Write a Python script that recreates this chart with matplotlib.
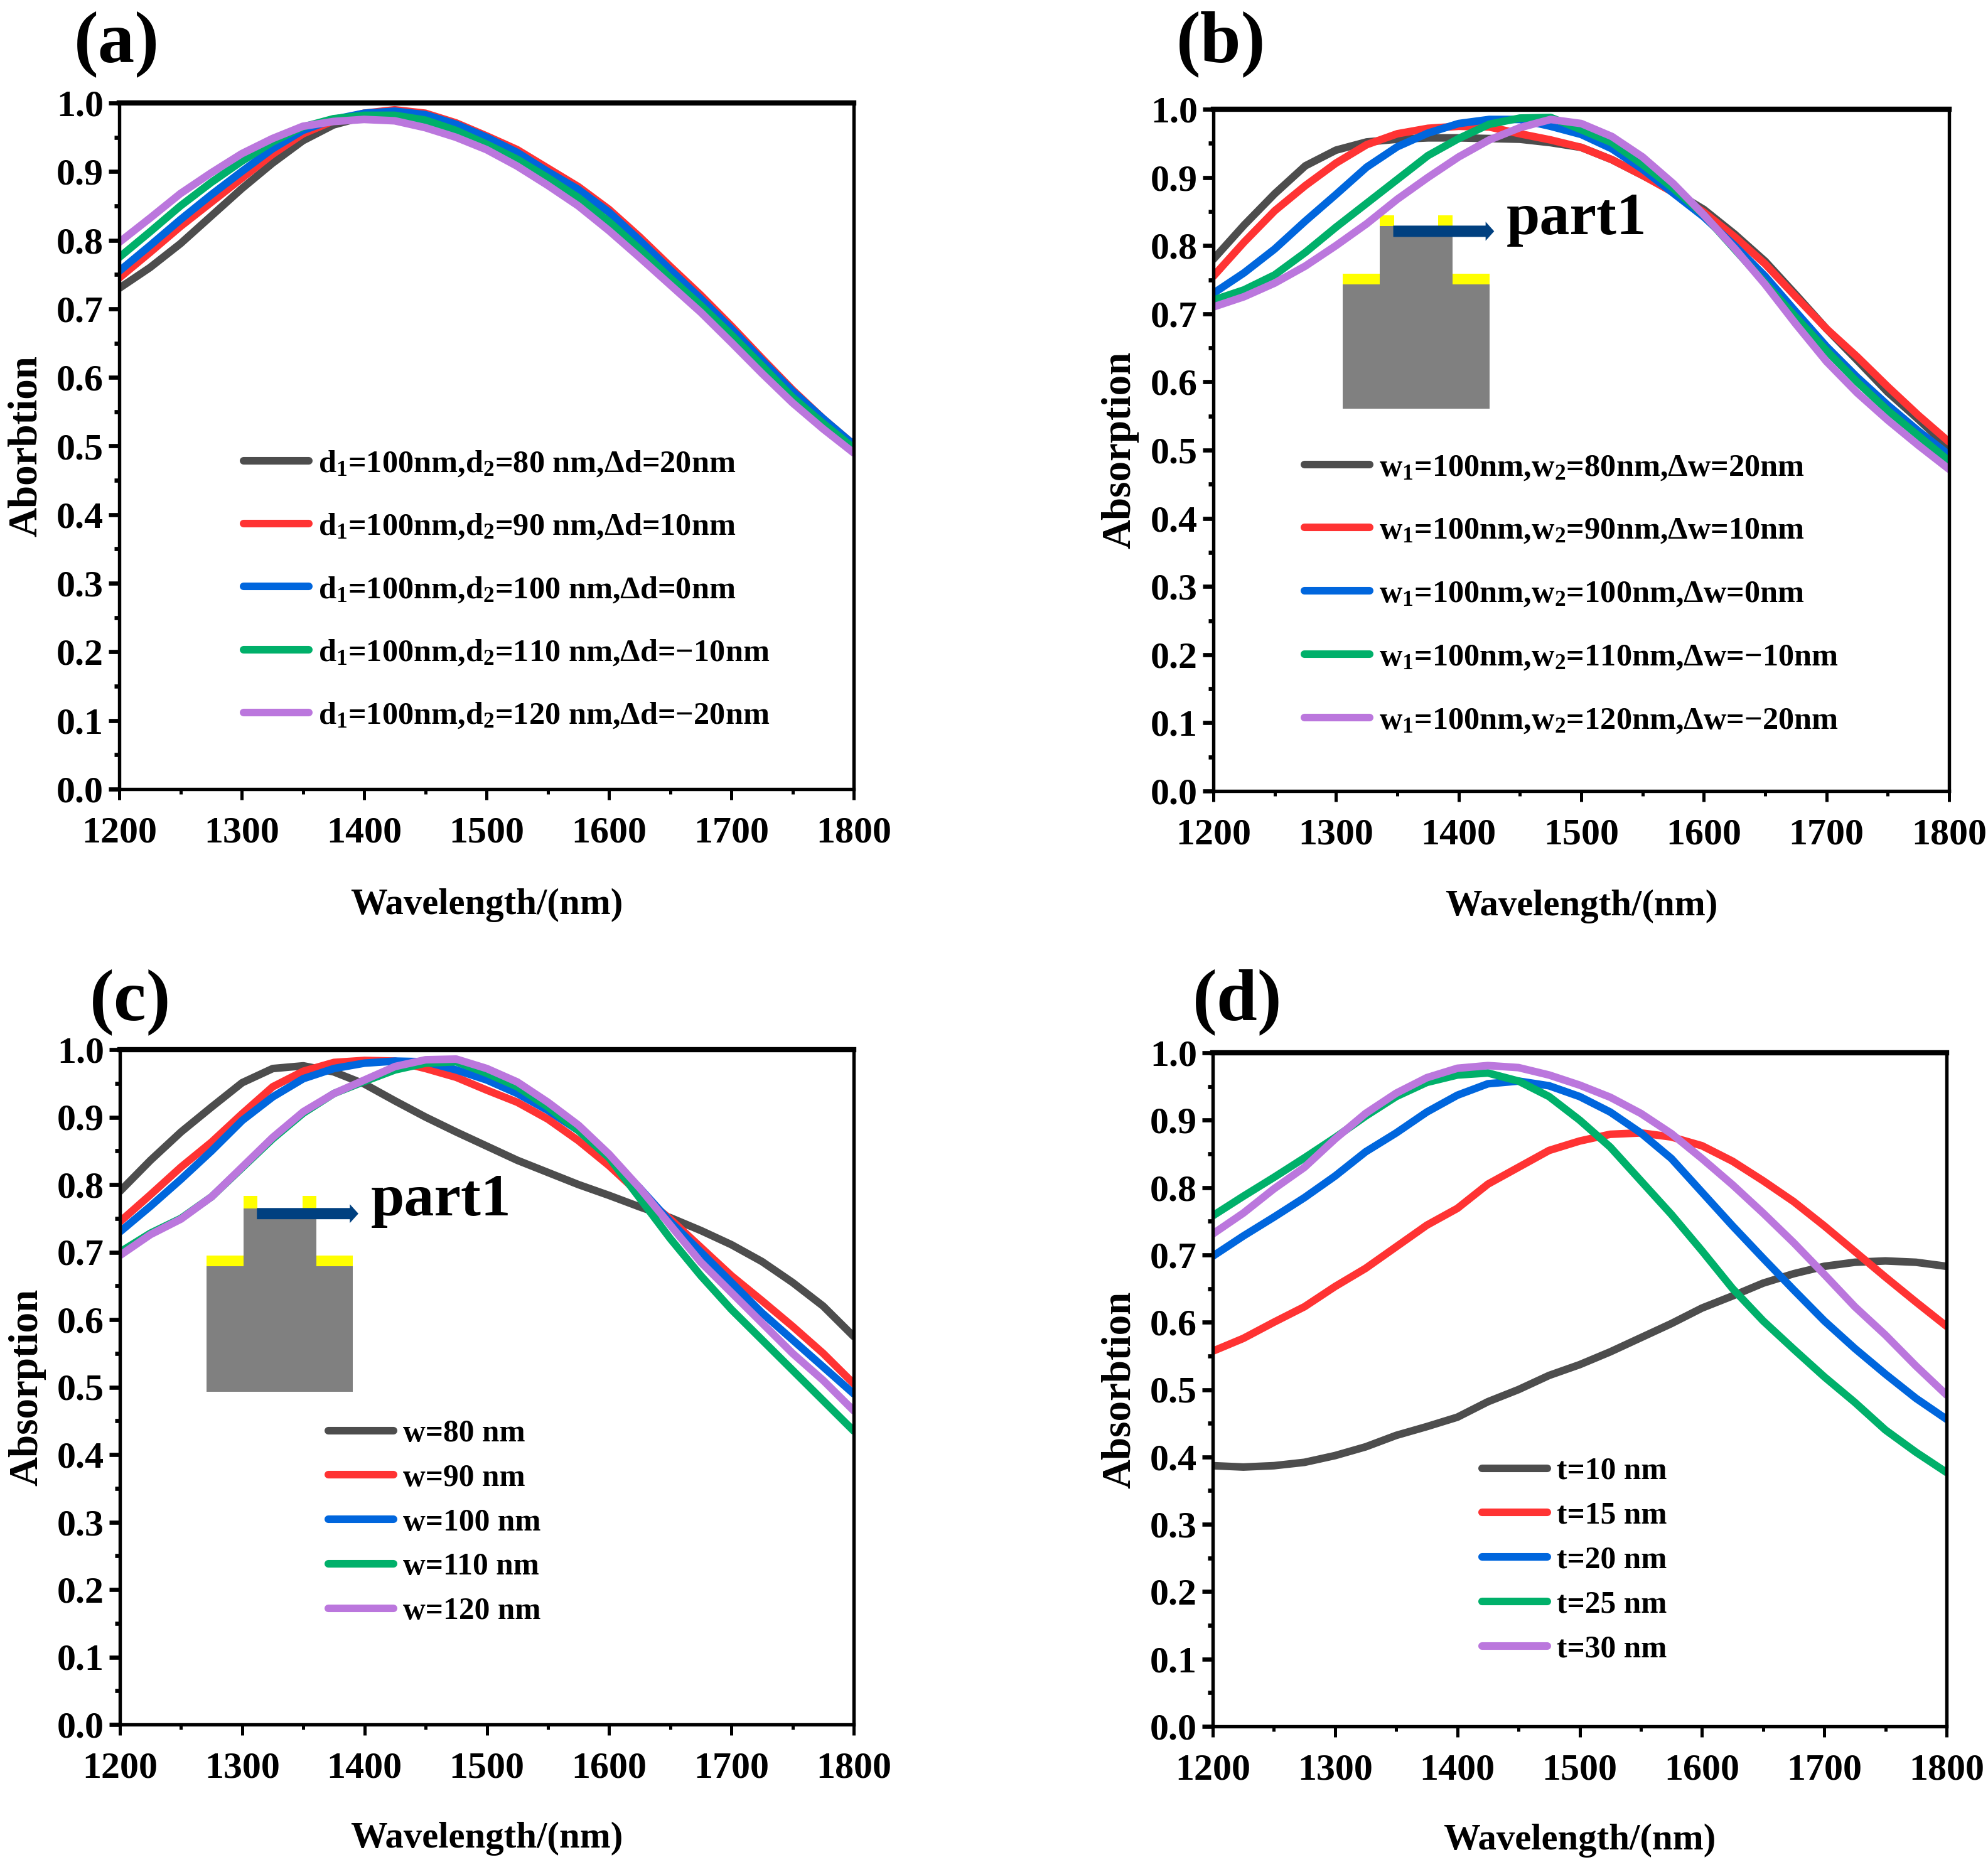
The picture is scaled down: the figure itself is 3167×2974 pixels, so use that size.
import numpy as np
import matplotlib
matplotlib.use('Agg')
import matplotlib.pyplot as plt
from matplotlib.patches import Rectangle
from matplotlib.ticker import MultipleLocator

plt.rcParams['font.family'] = ['Liberation Serif', 'DejaVu Serif']
plt.rcParams['font.weight'] = 'bold'
plt.rcParams['axes.labelweight'] = 'bold'
plt.rcParams['mathtext.default'] = 'regular'

W = 3167
H = 2974

Wavelength = [1200, 1225, 1250, 1275, 1300, 1325, 1350, 1375, 1400, 1425, 1450, 1475, 1500,
              1525, 1550, 1575, 1600, 1625, 1650, 1675, 1700, 1725, 1750, 1775, 1800]
Colores = ['#4d4d4d', '#ff3333', '#0066dd', '#00b06a', '#bb77dd']

#a
A1 = [.730, .760, .795, .835, .875, .912, .945, .968, .980, .985, .980, .968, .950, .928, .904, .874, .841, .800, .757, .716, .671, .625, .579, .538, .500]
A2 = [.745, .782, .820, .855, .890, .925, .955, .974, .985, .990, .985, .971, .952, .932, .905, .878, .845, .805, .762, .720, .675, .628, .582, .540, .502]
A3 = [.755, .792, .830, .866, .900, .933, .960, .976, .985, .988, .983, .969, .950, .928, .900, .874, .841, .800, .757, .715, .671, .625, .580, .540, .502]
A4 = [.775, .812, .850, .884, .915, .943, .965, .977, .982, .982, .975, .960, .940, .918, .891, .862, .827, .787, .745, .705, .662, .617, .571, .533, .497]
A5 = [.797, .832, .868, .898, .926, .948, .966, .973, .976, .974, .964, .950, .932, .908, .880, .850, .814, .775, .735, .695, .651, .606, .563, .525, .490]
Labels_a = ['d$_1$=100nm,d$_2$=80 nm,Δd=20nm', 'd$_1$=100nm,d$_2$=90 nm,Δd=10nm', 'd$_1$=100nm,d$_2$=100 nm,Δd=0nm',
            'd$_1$=100nm,d$_2$=110 nm,Δd=\u221210nm', 'd$_1$=100nm,d$_2$=120 nm,Δd=\u221220nm']

#b
B1 = [.780, .830, .876, .917, .940, .952, .956, .958, .958, .957, .956, .951, .944, .926, .903, .880, .853, .817, .777, .728, .678, .632, .585, .545, .503]
B2 = [.755, .805, .851, .888, .921, .948, .964, .972, .975, .974, .964, .955, .944, .926, .903, .878, .849, .813, .773, .725, .678, .637, .593, .551, .512]
B3 = [.730, .760, .795, .836, .875, .915, .945, .965, .979, .985, .985, .975, .963, .942, .912, .877, .842, .800, .755, .703, .652, .607, .566, .528, .493]
B4 = [.720, .735, .757, .790, .827, .862, .897, .932, .957, .978, .987, .988, .970, .951, .919, .884, .845, .795, .745, .695, .646, .600, .558, .521, .484]
B5 = [.710, .725, .745, .770, .800, .832, .868, .900, .930, .955, .973, .985, .979, .960, .930, .891, .845, .796, .743, .685, .630, .584, .544, .507, .472]
Labels_b = ['w$_1$=100nm,w$_2$=80nm,Δw=20nm', 'w$_1$=100nm,w$_2$=90nm,Δw=10nm', 'w$_1$=100nm,w$_2$=100nm,Δw=0nm',
            'w$_1$=100nm,w$_2$=110nm,Δw=\u221210nm', 'w$_1$=100nm,w$_2$=120nm,Δw=\u221220nm']

#c
C1 = [.790, .836, .878, .915, .951, .972, .976, .967, .949, .924, .900, .878, .857, .836, .818, .800, .784, .767, .751, .732, .711, .686, .655, .620, .575]
C2 = [.745, .785, .826, .863, .905, .945, .968, .981, .984, .983, .972, .959, .940, .922, .897, .865, .828, .786, .749, .707, .665, .628, .590, .550, .505]
C3 = [.730, .768, .808, .850, .895, .930, .957, .972, .980, .983, .982, .970, .955, .935, .910, .880, .840, .795, .745, .700, .655, .610, .570, .530, .490]
C4 = [.700, .728, .750, .782, .825, .868, .906, .935, .953, .970, .980, .982, .965, .945, .915, .880, .840, .780, .720, .665, .615, .570, .525, .480, .435]
C5 = [.695, .726, .749, .782, .826, .870, .908, .935, .955, .975, .985, .986, .972, .952, .922, .888, .845, .795, .740, .685, .640, .595, .550, .510, .465]
Labels_c = ['w=80 nm', 'w=90 nm', 'w=100 nm', 'w=110 nm', 'w=120 nm']

#d
D1 = [.387, .385, .387, .392, .402, .415, .432, .445, .459, .482, .500, .521, .537, .556, .577, .598, .621, .639, .658, .672, .683, .689, .691, .689, .683]
D2 = [.557, .576, .600, .623, .653, .680, .712, .744, .769, .805, .830, .855, .869, .879, .881, .875, .862, .839, .810, .779, .743, .705, .667, .630, .594]
D3 = [.698, .728, .756, .785, .817, .853, .881, .912, .937, .954, .958, .951, .935, .912, .881, .843, .793, .743, .695, .648, .602, .561, .523, .487, .456]
D4 = [.758, .787, .815, .844, .874, .906, .935, .956, .967, .970, .958, .935, .900, .860, .810, .760, .706, .650, .602, .560, .519, .481, .440, .407, .377]
D5 = [.731, .762, .798, .830, .872, .910, .940, .963, .977, .981, .978, .967, .952, .934, .910, .880, .843, .804, .762, .718, .671, .623, .581, .535, .492]
Labels_d = ['t=10 nm', 't=15 nm', 't=20 nm', 't=25 nm', 't=30 nm']


def Panel(caja, curvas, labels, ylabel, letra, letra_xy, ley_xy, fs, espacio):
    x0, y0, x1, y1 = caja
    ax = fig.add_axes([x0/W, 1-y1/H, (x1-x0)/W, (y1-y0)/H])
    for i in range(5):
        ax.plot(Wavelength, curvas[i], color=Colores[i], lw=2.9, label=labels[i],
                solid_capstyle='round', solid_joinstyle='round')
    ax.set_xlim(1200, 1800)
    ax.set_ylim(0, 1)
    ax.xaxis.set_major_locator(MultipleLocator(100))
    ax.xaxis.set_minor_locator(MultipleLocator(50))
    ax.yaxis.set_major_locator(MultipleLocator(0.1))
    ax.yaxis.set_minor_locator(MultipleLocator(0.05))
    ax.tick_params(which='major', length=4, labelsize=14.4)
    ax.tick_params(which='minor', length=2)
    ax.tick_params(axis='x', which='both', width=1.2)
    ax.tick_params(axis='y', which='both', width=1.6)
    ax.tick_params(axis='x', which='major', pad=6.5)
    ax.tick_params(axis='y', which='major', pad=2)
    for s in ax.spines.values():
        s.set_linewidth(1.3)
    ax.spines['top'].set_linewidth(2.0)
    ax.set_xlabel('Wavelength/(nm)', fontsize=14.1)
    ax.set_ylabel(ylabel, fontsize=15.6)
    ax.xaxis.set_label_coords(0.5, -0.144)
    ax.yaxis.set_label_coords(-0.101, 0.5)
    ax.legend(loc='upper left', bbox_to_anchor=(ley_xy[0]/W, 1-ley_xy[1]/H), bbox_transform=fig.transFigure,
              frameon=False, fontsize=fs, handlelength=25/fs, handletextpad=0.3, borderpad=0, borderaxespad=0,
              labelspacing=espacio)
    fig.text(letra_xy[0]/W, 1-letra_xy[1]/H, letra, fontsize=28, ha='center', va='center')
    return ax


def Dibujo(ax, x, y, xt, yt):
    # x: lower block edges, upper block edges; y: bottom, base top, side gold top, upper top, top gold top
    ax.add_patch(Rectangle((x[0], y[0]), x[3]-x[0], y[1]-y[0], color='#808080', lw=0))
    ax.add_patch(Rectangle((x[1], y[1]), x[2]-x[1], y[3]-y[1], color='#808080', lw=0))
    ax.add_patch(Rectangle((x[0], y[1]), x[1]-x[0], y[2]-y[1], color='#ffff00', lw=0))
    ax.add_patch(Rectangle((x[2], y[1]), x[3]-x[2], y[2]-y[1], color='#ffff00', lw=0))
    ax.add_patch(Rectangle((x[1], y[3]), 11.5, y[4]-y[3], color='#ffff00', lw=0))
    ax.add_patch(Rectangle((x[2]-11.5, y[3]), 11.5, y[4]-y[3], color='#ffff00', lw=0))
    ax.arrow(x[1]+11, y[3]-0.008, xt-10-(x[1]+11), 0, width=0.0166, head_width=0.028, head_length=7,
             length_includes_head=True, color='#004080', lw=0)
    ax.text(xt, yt, 'part1', fontsize=23, ha='left', va='baseline')


fig = plt.figure(figsize=(W/300, H/300), dpi=300)

axa = Panel((190, 164, 1360, 1257), [A1, A2, A3, A4, A5], Labels_a, 'Aborbtion', '(a)', (186, 70), (388, 716), 12.1, 1.06)
axb = Panel((1933, 174, 3105, 1260), [B1, B2, B3, B4, B5], Labels_b, 'Absorption', '(b)', (1945, 70), (2078, 722), 12.1, 1.08)
axc = Panel((191, 1672, 1360, 2747), [C1, C2, C3, C4, C5], Labels_c, 'Absorption', '(c)', (208, 1596), (523, 2261), 11.9, 0.5)
axd = Panel((1932, 1677, 3101, 2750), [D1, D2, D3, D4, D5], Labels_d, 'Absorbtion', '(d)', (1971, 1596), (2361, 2321), 11.9, 0.5)

Dibujo(axb, (1305.5, 1335.7, 1395, 1425), (0.561, 0.743, 0.759, 0.829, 0.844), 1439, 0.817)
Dibujo(axc, (1270.8, 1301, 1360.7, 1390.4), (0.493, 0.679, 0.695, 0.765, 0.783), 1405, 0.754)

plt.savefig('out.png', dpi=300)
